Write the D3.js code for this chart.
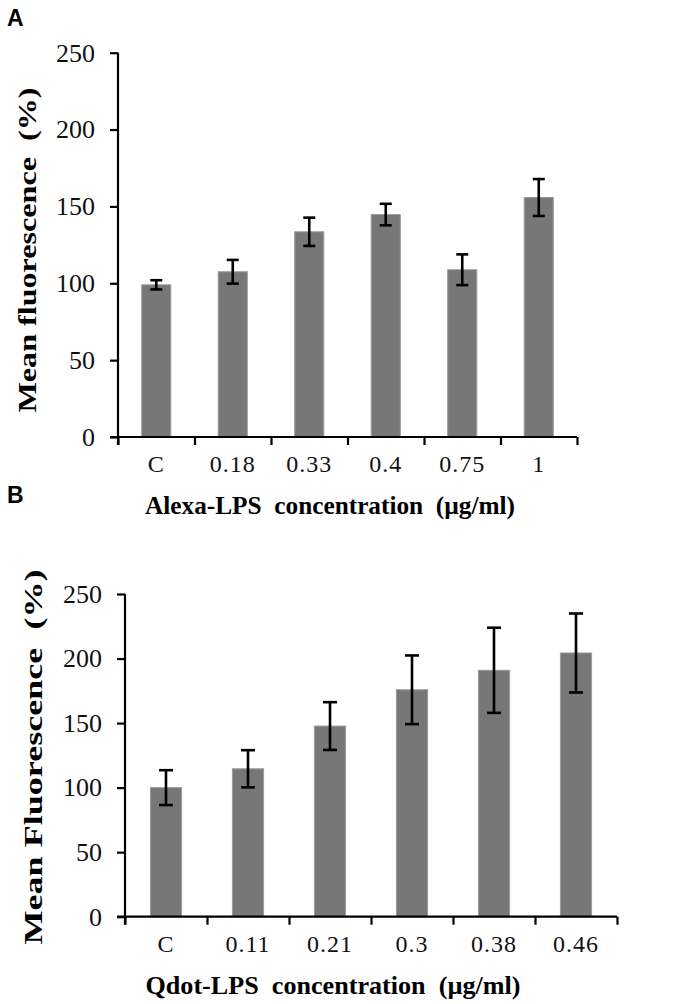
<!DOCTYPE html>
<html>
<head>
<meta charset="utf-8">
<script src="https://d3js.org/d3.v7.min.js"></script>
<style>
  body { margin: 0; background: #fff; }
  svg { display: block; }
</style>
</head>
<body>
<svg width="700" height="1004"></svg>
<script>
// panel A: Alexa-LPS
var catsA = ["C", "0.18", "0.33", "0.4", "0.75", "1"];
var meanA = [99, 107.5, 133.5, 144.7, 108.8, 155.8];
var errA  = [3, 7.7, 9.2, 7, 10, 12];

// panel B: Qdot-LPS
var catsB = ["C", "0.11", "0.21", "0.3", "0.38", "0.46"];
var meanB = [100, 114.6, 147.7, 175.8, 190.9, 204.3];
var errB  = [13.5, 14.4, 18.5, 26.6, 33, 30.6];

var yTicks = [0, 50, 100, 150, 200, 250];

var serif = "'Liberation Serif', 'Times New Roman', serif";
var svg = d3.select("svg");

function panel(opt) {
  var g = svg.append("g");
  var n = opt.cats.length;

  var y = d3.scaleLinear().domain([0, 250]).range([opt.y0, opt.y1]);
  var xb = d3.scaleLinear().domain([0, n]).range([opt.x0, opt.x1]);
  var x = d3.scaleBand().domain(opt.cats).range([opt.x0, opt.x1]).paddingInner(0.62).paddingOuter(0.31);

  var data = opt.cats.map(function(c, i) {
    return {cat: c, mean: opt.mean[i], err: opt.err[i]};
  });

  // bars
  g.selectAll(".bar")
    .data(data)
    .enter().append("rect")
      .attr("class", "bar")
      .attr("x", function(d) { return x(d.cat); })
      .attr("width", x.bandwidth())
      .attr("y", function(d) { return y(d.mean); })
      .attr("height", function(d) { return opt.y0 - y(d.mean); })
      .style("fill", "#777777")
      .style("stroke", "#9a9a9a")
      .style("stroke-width", 1);

  // error bars
  var eb = g.selectAll(".err")
    .data(data)
    .enter().append("g")
      .attr("class", "err")
      .attr("transform", function(d) { return "translate(" + (x(d.cat) + x.bandwidth() / 2) + ",0)"; })
      .style("stroke", "#000")
      .style("stroke-width", 2.6);
  eb.append("line")
    .attr("y1", function(d) { return y(d.mean + d.err); })
    .attr("y2", function(d) { return y(d.mean - d.err); });
  eb.append("line")
    .attr("x1", -opt.cap).attr("x2", opt.cap)
    .attr("y1", function(d) { return y(d.mean + d.err); })
    .attr("y2", function(d) { return y(d.mean + d.err); });
  eb.append("line")
    .attr("x1", -opt.cap).attr("x2", opt.cap)
    .attr("y1", function(d) { return y(d.mean - d.err); })
    .attr("y2", function(d) { return y(d.mean - d.err); });

  // y axis
  var ya = g.append("g")
    .attr("transform", "translate(" + opt.x0 + ",0)")
    .call(d3.axisLeft(y).tickValues(yTicks).tickSize(8).tickPadding(15));
  ya.select(".domain").attr("d", "M0," + (opt.y0 + 8) + "V" + opt.y1);
  ya.selectAll(".tick text").style("font-size", "26px");

  // x axis with ticks at category borders
  var xa = g.append("g")
    .attr("transform", "translate(0," + opt.y0 + ")")
    .call(d3.axisBottom(xb).tickValues(d3.range(n + 1)).tickSize(8).tickFormat(""));
  xa.select(".domain").attr("d", "M" + (opt.x0 - 8) + ",0H" + opt.x1);

  // category labels
  var xl = g.append("g")
    .attr("transform", "translate(0," + opt.y0 + ")")
    .call(d3.axisBottom(x).tickSize(0).tickPadding(opt.labPad));
  xl.select(".domain").remove();
  xl.selectAll(".tick text").style("font-size", "24px").style("letter-spacing", "1px");

  g.selectAll(".domain, .tick line").style("stroke", "#000").style("stroke-width", 2.2);
  g.selectAll(".tick text")
    .style("font-family", serif)
    .style("fill", "#111");

  // axis titles
  g.append("text")
    .attr("x", opt.xtx).attr("y", opt.xty)
    .attr("text-anchor", "middle")
    .attr("textLength", opt.xtLen).attr("lengthAdjust", "spacingAndGlyphs")
    .style("font-family", serif)
    .style("font-weight", "bold").style("font-size", "26px")
    .style("white-space", "pre")
    .text(opt.xTitle);

  g.append("text")
    .attr("transform", "translate(" + opt.ytx + "," + opt.yty + ") rotate(-90)")
    .attr("text-anchor", "middle")
    .attr("textLength", opt.ytLen).attr("lengthAdjust", "spacingAndGlyphs")
    .style("font-family", serif)
    .style("font-weight", "bold").style("font-size", "26px")
    .style("white-space", "pre")
    .text(opt.yTitle);

  // panel letter
  g.append("text")
    .attr("x", 7).attr("y", opt.letterY)
    .style("font-family", "'Liberation Sans', Arial, sans-serif")
    .style("font-weight", "bold").style("font-size", "23px")
    .text(opt.letter);
}

panel({
  cats: catsA, mean: meanA, err: errA,
  x0: 118, x1: 577, y0: 437, y1: 52.7, cap: 6, labPad: 18,
  xTitle: "Alexa-LPS  concentration  (\u00b5g/ml)", xtx: 330, xty: 514, xtLen: 370,
  yTitle: "Mean fluorescence  (%)", ytx: 36, yty: 250, ytLen: 325,
  letter: "A", letterY: 26
});

panel({
  cats: catsB, mean: meanB, err: errB,
  x0: 125, x1: 617, y0: 916.7, y1: 594, cap: 7, labPad: 18,
  xTitle: "Qdot-LPS  concentration  (\u00b5g/ml)", xtx: 333, xty: 994, xtLen: 375,
  yTitle: "Mean Fluorescence  (%)", ytx: 42, yty: 757, ytLen: 375,
  letter: "B", letterY: 503
});
</script>
</body>
</html>
